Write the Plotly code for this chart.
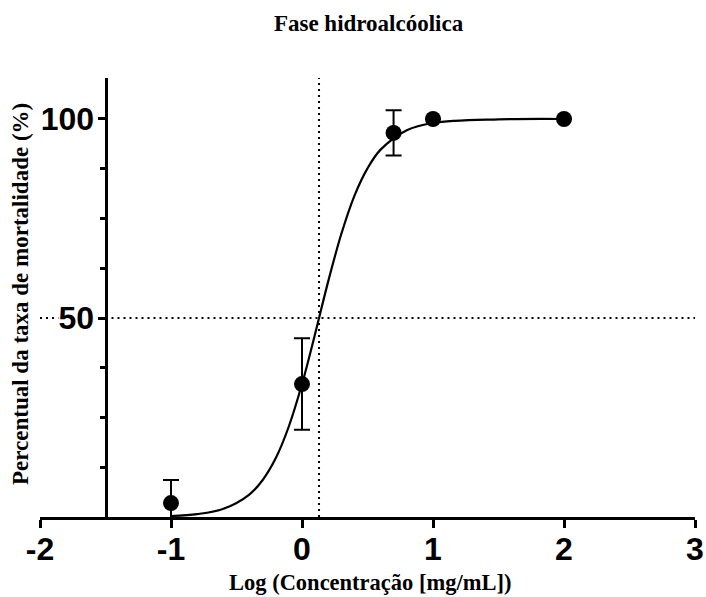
import plotly.graph_objects as go

# Data points (log concentration vs mortality %)
log_conc = [-1, 0, 0.699, 1, 2]
mortality = [3.5, 33.4, 96.5, 100, 100]
mortality_err = [5.8, 11.5, 5.7, 0, 0]

# Fitted dose-response curve
curve_x = [-1, -0.8, -0.6, -0.4, -0.3, -0.2, -0.1, 0, 0.1, 0.2, 0.3, 0.4, 0.5, 0.6, 0.8, 1.0, 1.5, 2.0]
curve_y = [0.25, 0.72, 2.05, 5.7, 9.3, 14.8, 22.8, 33.4, 46.0, 59.2, 71.1, 80.7, 87.6, 92.3, 97.2, 99.0, 99.9, 100]

log_ec50 = 0.13
half_effect = 50

x_ticks = [-2, -1, 0, 1, 2, 3]
y_ticks = [50, 100]
y_minor = [12.5, 25, 37.5, 62.5, 75, 87.5]

serif = "Times New Roman, Liberation Serif, serif"
sans = "Arial, Liberation Sans, sans-serif"

fig = go.Figure()

fig.add_trace(go.Scatter(
    x=curve_x, y=curve_y, mode="lines", line=dict(color="black", width=2.2, shape="spline"),
    hoverinfo="skip", showlegend=False,
))
fig.add_trace(go.Scatter(
    x=log_conc, y=mortality, mode="markers",
    marker=dict(color="black", size=16),
    error_y=dict(type="data", array=mortality_err, color="black", thickness=2, width=8),
    cliponaxis=False, showlegend=False,
))

# dotted reference lines
dot = dict(color="black", width=2, dash="2px,4px")
fig.add_shape(type="line", xref="x", yref="y", x0=-2, x1=-1.86, y0=half_effect, y1=half_effect, line=dot)
fig.add_shape(type="line", xref="x", yref="y", x0=-1.5, x1=3, y0=half_effect, y1=half_effect, line=dot)
fig.add_shape(type="line", xref="x", yref="y", x0=log_ec50, x1=log_ec50, y0=0, y1=110.3, line=dot)

fig.update_layout(
    width=706, height=597,
    margin=dict(l=40, r=11, t=78, b=80, autoexpand=False),
    plot_bgcolor="white", paper_bgcolor="white",
    title=dict(text="<b>Fase hidroalcóolica</b>", x=0.522, xanchor="center", y=0.962, yanchor="middle",
               font=dict(family=serif, size=23, color="black")),
    xaxis=dict(
        range=[-2, 3], tickvals=x_ticks, ticktext=[str(v) for v in x_ticks],
        automargin=False,
        showline=True, linecolor="black", linewidth=3,
        ticks="outside", ticklen=8, tickwidth=2.5, tickcolor="black",
        showgrid=False, zeroline=False,
        ticklabelstandoff=-6,
        tickfont=dict(family=sans, size=32, color="black", weight="bold"),
    ),
    yaxis=dict(
        range=[0, 110.3], tickvals=y_ticks, ticktext=[str(v) for v in y_ticks],
        anchor="free", position=0.1, automargin=False,
        showline=True, linecolor="black", linewidth=3,
        ticks="outside", ticklen=7, tickwidth=2.5, tickcolor="black",
        minor=dict(tickvals=y_minor, ticks="outside", ticklen=5, tickwidth=2.5, tickcolor="black"),
        showgrid=False, zeroline=False,
        ticklabelstandoff=-3,
        tickfont=dict(family=sans, size=32, color="black", weight="bold"),
    ),
    annotations=[
        dict(text="<b>Percentual da taxa de mortalidade (%)</b>", textangle=-90,
             xref="paper", yref="paper", x=-0.029, y=0.508, xanchor="center", yanchor="middle",
             showarrow=False, font=dict(family=serif, size=23, color="black")),
        dict(text="<b>Log (Concentração [mg/mL])</b>",
             xref="paper", yref="paper", x=0.504, y=-0.15, xanchor="center", yanchor="middle",
             showarrow=False, font=dict(family=serif, size=22.5, color="black")),
    ],
)

fig.write_html("out.html")
